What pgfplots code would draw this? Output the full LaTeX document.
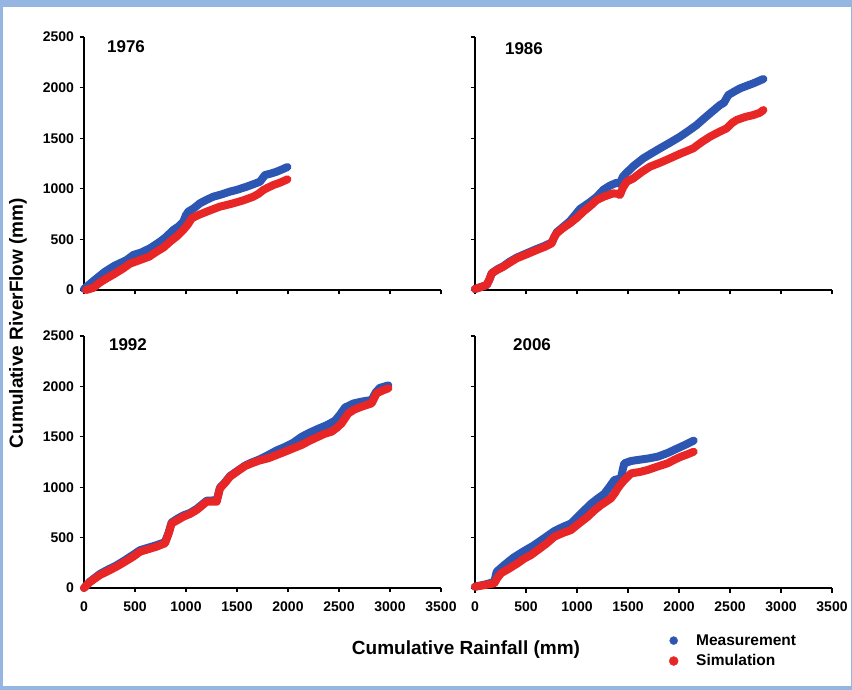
\documentclass[border=0pt]{standalone}
\usepackage{fontspec}
\setmainfont{Liberation Sans}
\usepackage{pgfplots}
\pgfplotsset{compat=1.18}
\definecolor{mblue}{RGB}{45,85,178}
\definecolor{sred}{RGB}{232,38,38}
\definecolor{frameblue}{RGB}{150,182,226}
\tikzset{yr/.style={font=\fontsize{17bp}{19bp}\selectfont\bfseries}}
\pgfplotsset{
  panel/.style={
    scale only axis, width=357bp, height=253bp, anchor=south west,
    xmin=0, xmax=3500, ymin=0, ymax=2500,
    axis lines*=left, axis line style={line width=1.3bp, black},
    tick align=outside, major tick length=4.5bp,
    tick style={line width=1.1bp, black},
    xtick={0,500,...,3500}, ytick={0,500,...,2500},
    tick label style={font=\fontsize{14bp}{16bp}\selectfont\bfseries},
    xticklabel style={yshift=-6bp},
    yticklabel style={xshift=-2bp},
    /pgf/number format/assume math mode=true,
    /pgf/number format/set thousands separator={},
    clip=false,
  },
  meas/.style={color=mblue, line width=8bp, line join=round, line cap=round, mark=none, forget plot},
  sim/.style={color=sred, line width=8bp, line join=round, line cap=round, mark=none, forget plot},
}
\begin{document}
\begin{tikzpicture}
\path[use as bounding box] (0,0) rectangle (852bp,690bp);
\fill[frameblue] (0,0) rectangle (852bp,690bp);
\fill[white] (3bp,4bp) rectangle (851bp,683bp);

% 1976
\begin{axis}[panel, at={(84bp,400bp)}, xticklabels={}]
\addplot[meas] coordinates {(0,10) (100,95) (206,181) (300,240) (418,296) (483,346) (560,370) (647,412) (745,477) (800,520) (876,593) (930,630) (974,675) (1000,740) (1023,774) (1080,810) (1137,857) (1200,890) (1268,922) (1350,945) (1431,972) (1500,990) (1595,1021) (1660,1045) (1725,1070) (1774,1136) (1830,1150) (1889,1169) (1950,1195) (1994,1215)};
\addplot[sim] coordinates {(20,0) (90,20) (150,70) (222,115) (300,160) (386,214) (450,260) (549,296) (640,330) (712,379) (780,420) (843,477) (910,530) (974,593) (1020,650) (1056,708) (1120,740) (1203,774) (1270,800) (1333,824) (1400,840) (1464,857) (1560,885) (1660,922) (1710,950) (1758,988) (1800,1010) (1856,1037) (1920,1060) (1994,1093)};
\node[yr] at (axis cs:412,2401) {1976};
\end{axis}

% 1986
\begin{axis}[panel, at={(475bp,400bp)}, xticklabels={}, yticklabels={}]
\addplot[meas] coordinates {(0,10) (60,30) (114,49) (140,100) (164,165) (220,205) (278,235) (340,280) (409,320) (500,360) (605,405) (680,435) (752,470) (801,570) (860,620) (931,680) (1029,800) (1130,870) (1193,920) (1258,990) (1320,1030) (1389,1060) (1421,1050) (1450,1120) (1487,1160) (1560,1230) (1650,1301) (1730,1350) (1814,1400) (1910,1455) (2010,1515) (2090,1570) (2173,1630) (2240,1690) (2304,1745) (2402,1828) (2440,1850) (2484,1927) (2540,1960) (2598,1992) (2670,2020) (2729,2042) (2827,2085)};
\addplot[sim] coordinates {(0,10) (60,30) (114,49) (140,100) (164,165) (220,200) (278,230) (340,270) (409,313) (500,350) (605,395) (680,425) (752,461) (775,520) (801,560) (860,610) (931,659) (1000,715) (1062,774) (1130,830) (1193,889) (1270,925) (1356,955) (1400,950) (1421,939) (1450,1010) (1487,1070) (1552,1103) (1640,1170) (1716,1219) (1820,1260) (1912,1301) (2020,1350) (2140,1400) (2220,1460) (2304,1515) (2390,1560) (2467,1597) (2520,1650) (2565,1680) (2650,1710) (2729,1729) (2790,1750) (2827,1778)};
\node[yr] at (axis cs:480,2381) {1986};
\end{axis}

% 1992
\begin{axis}[panel, height=252bp, at={(84bp,102bp)}]
\addplot[meas] coordinates {(0,0) (60,65) (157,140) (240,185) (320,225) (400,275) (483,330) (549,375) (630,400) (712,425) (794,455) (830,550) (859,650) (920,690) (974,720) (1040,745) (1105,785) (1160,830) (1203,866) (1301,870) (1333,995) (1380,1045) (1431,1110) (1480,1145) (1523,1175) (1580,1215) (1644,1245) (1720,1275) (1807,1320) (1890,1365) (1971,1400) (2050,1440) (2134,1500) (2210,1540) (2297,1580) (2380,1615) (2461,1660) (2510,1720) (2559,1790) (2640,1830) (2722,1849) (2820,1865) (2860,1940) (2900,1985) (2984,2010)};
\addplot[sim] coordinates {(0,0) (60,60) (157,129) (240,170) (320,212) (400,260) (483,311) (549,360) (630,385) (712,410) (794,443) (830,540) (859,641) (920,675) (974,707) (1040,735) (1105,774) (1160,820) (1203,856) (1301,856) (1333,989) (1380,1040) (1431,1104) (1480,1140) (1523,1171) (1580,1210) (1644,1237) (1720,1265) (1807,1287) (1890,1320) (1971,1352) (2050,1385) (2134,1419) (2210,1460) (2297,1501) (2360,1530) (2428,1551) (2480,1590) (2526,1634) (2592,1733) (2650,1770) (2722,1799) (2820,1832) (2869,1931) (2930,1960) (2984,1981)};
\node[yr] at (axis cs:431,2411) {1992};
\end{axis}

% 2006
\begin{axis}[panel, height=252bp, at={(475bp,102bp)}, yticklabels={},
  legend style={draw=none, fill=none, at={(rel axis cs:0.535,-0.168)}, anchor=north west,
    font=\fontsize{15.5bp}{18bp}\selectfont\bfseries, row sep=4bp, column sep=16bp},
  legend cell align=left]
\addplot[meas] coordinates {(0,13) (100,35) (189,60) (213,162) (290,230) (376,300) (470,360) (572,420) (680,495) (778,565) (860,605) (941,640) (1040,740) (1137,835) (1200,885) (1268,935) (1320,1005) (1366,1071) (1431,1088) (1450,1180) (1464,1237) (1530,1260) (1595,1270) (1700,1285) (1791,1303) (1890,1340) (1987,1386) (2060,1420) (2144,1462)};
\addplot[sim] coordinates {(0,13) (100,30) (189,46) (220,100) (255,146) (330,190) (418,245) (480,290) (549,327) (620,380) (700,440) (778,509) (860,545) (941,575) (1020,640) (1105,707) (1170,770) (1235,823) (1290,860) (1333,890) (1370,940) (1399,989) (1430,1030) (1464,1071) (1530,1137) (1610,1150) (1693,1171) (1790,1205) (1889,1237) (1950,1270) (2020,1303) (2080,1325) (2144,1352)};
\addlegendimage{only marks, mark=*, mark size=4bp, color=mblue}
\addlegendentry{Measurement}
\addlegendimage{only marks, mark=*, mark size=4.5bp, color=sred}
\addlegendentry{Simulation}
\node[yr] at (axis cs:559,2411) {2006};
\end{axis}

\node[rotate=90, font=\fontsize{19bp}{22bp}\selectfont\bfseries] at (18bp,367bp) {Cumulative RiverFlow (mm)};
\node[font=\fontsize{19bp}{22bp}\selectfont\bfseries] at (466bp,40bp) {Cumulative Rainfall (mm)};
\end{tikzpicture}
\end{document}
